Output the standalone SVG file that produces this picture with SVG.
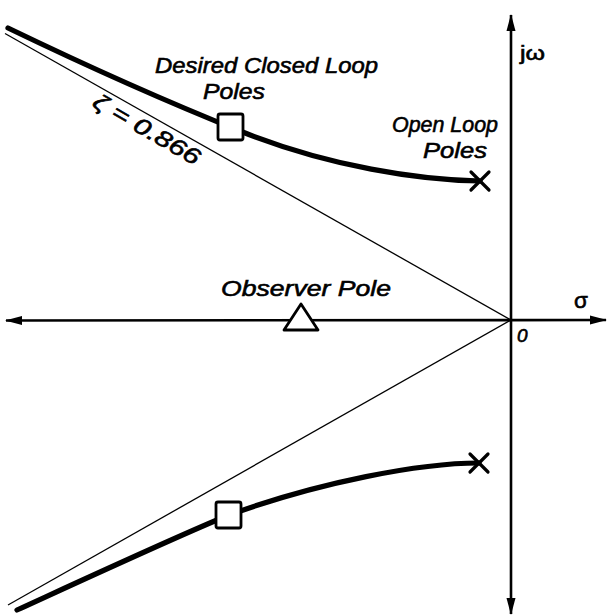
<svg xmlns="http://www.w3.org/2000/svg" width="607" height="615" viewBox="0 0 607 615">
<style>
.lbl{font-family:"Liberation Sans","DejaVu Sans",sans-serif;font-style:italic;font-size:22.5px;fill:#000;stroke:#000;stroke-width:0.6}
.axis{stroke:#000;stroke-width:2.6;fill:none}
.thin{stroke:#000;stroke-width:1.3;fill:none}
.locus{stroke:#000;stroke-width:5.2;fill:none;stroke-linecap:round}
.pole{fill:#fff;stroke:#000;stroke-width:2.8}
.xmark{stroke:#000;stroke-width:3.2;stroke-linecap:round}
</style>
<defs>
<marker id="arr" viewBox="0 0 17 10" refX="16" refY="5" markerWidth="17" markerHeight="10" markerUnits="userSpaceOnUse" orient="auto-start-reverse">
<path d="M0,0.5 L17,5 L0,9.5 z" fill="#000"/>
</marker>
</defs>
<rect width="607" height="615" fill="#fff"/>
<g id="connectors">
<line id="sigma-axis" class="axis" x1="6" y1="320.5" x2="606" y2="320" marker-start="url(#arr)" marker-end="url(#arr)"/>
<line id="jw-axis" class="axis" x1="511" y1="15" x2="511" y2="614" marker-start="url(#arr)" marker-end="url(#arr)"/>
<line id="zeta-upper" class="thin" x1="511" y1="320" x2="5" y2="33.5"/>
<line id="zeta-lower" class="thin" x1="511" y1="320" x2="8" y2="605"/>
<path id="locus-upper" class="locus" d="M8,28 C120,82 200,115 240,131 C330,167 420,180 480,181"/>
<path id="locus-lower" class="locus" d="M17,610 C100,572 180,535 229,515 C320,482 420,463 479,463"/>
</g>
<g id="closed-loop-upper"><rect class="pole" x="218" y="114" width="25" height="26" rx="2"/></g>
<g id="closed-loop-lower"><rect class="pole" x="216" y="502" width="25" height="26" rx="2"/></g>
<g id="observer-pole"><polygon class="pole" points="301,304 284,330 318,330" stroke-linejoin="round"/></g>
<g id="open-loop-upper"><path class="xmark" d="M471,172 L489,190 M489,172 L471,190"/></g>
<g id="open-loop-lower"><path class="xmark" d="M470,454 L488,472 M488,454 L470,472"/></g>
<g id="labels">
<text class="lbl" x="155" y="73" textLength="223" lengthAdjust="spacingAndGlyphs">Desired Closed Loop</text>
<text class="lbl" x="203" y="99" textLength="62" lengthAdjust="spacingAndGlyphs">Poles</text>
<text class="lbl" x="392" y="132" textLength="106" lengthAdjust="spacingAndGlyphs">Open Loop</text>
<text class="lbl" x="423" y="158" textLength="64" lengthAdjust="spacingAndGlyphs">Poles</text>
<text class="lbl" x="221" y="296" textLength="170" lengthAdjust="spacingAndGlyphs">Observer Pole</text>
<text class="lbl" x="520" y="60" textLength="25" lengthAdjust="spacingAndGlyphs" style="font-style:normal;font-size:20px">jω</text>
<text class="lbl" x="574" y="308" style="font-style:normal">σ</text>
<text class="lbl" x="517" y="342" style="font-size:19px">0</text>
<text class="lbl" transform="translate(91,106) rotate(30)" x="0" y="0" textLength="120" lengthAdjust="spacingAndGlyphs">ζ = 0.866</text>
</g>
</svg>
